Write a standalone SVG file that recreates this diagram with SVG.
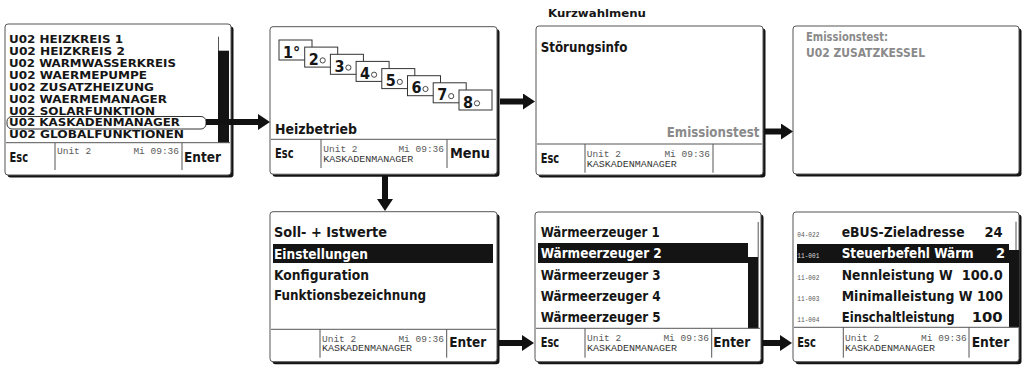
<svg xmlns="http://www.w3.org/2000/svg" width="1029" height="366" viewBox="0 0 1029 366">
<defs>
<style>
.sh{fill:#141414}
.fr{fill:#fff;stroke:#555;stroke-width:1}
.t{font-family:"DejaVu Sans Condensed","DejaVu Sans",sans-serif;font-weight:bold;font-stretch:condensed;fill:#161616}
.l{font-size:10.5px}
.m{font-size:14.5px}
.d{font-size:16px}
.w{fill:#fff}
.g{fill:#8a8a8a}
.mo{font-family:"Liberation Mono","DejaVu Sans Mono",monospace;font-size:9.5px;fill:#5a5a5a}
.mk{font-family:"Liberation Mono","DejaVu Sans Mono",monospace;font-size:9px;fill:#333}
.cd{font-family:"Liberation Mono","DejaVu Sans Mono",monospace;font-size:8px;fill:#555}
.dv{stroke:#555;stroke-width:1;fill:none}
.bx{fill:#fff;stroke:#333;stroke-width:1}
.ci{fill:none;stroke:#333;stroke-width:0.9}
.ar{stroke:#111;stroke-width:6;fill:none}
</style>
<marker id="ah" markerUnits="userSpaceOnUse" markerWidth="12" markerHeight="16" viewBox="0 0 12 16" refX="0" refY="8" orient="auto">
<path d="M0,0 L12,8 L0,16 Z" fill="#111"/>
</marker>
</defs>

<g id="screen-menu">
<rect class="sh" x="7.5" y="26.5" width="226" height="151" rx="3"/>
<rect class="fr" x="5" y="24" width="226" height="151" rx="3"/>
<text class="t l" x="9" y="42.7" textLength="114" lengthAdjust="spacingAndGlyphs">U02 HEIZKREIS 1</text>
<text class="t l" x="9" y="54.5" textLength="116" lengthAdjust="spacingAndGlyphs">U02 HEIZKREIS 2</text>
<text class="t l" x="9" y="66.6" textLength="167" lengthAdjust="spacingAndGlyphs">U02 WARMWASSERKREIS</text>
<text class="t l" x="9" y="78.6" textLength="138" lengthAdjust="spacingAndGlyphs">U02 WAERMEPUMPE</text>
<text class="t l" x="9" y="90.6" textLength="145" lengthAdjust="spacingAndGlyphs">U02 ZUSATZHEIZUNG</text>
<text class="t l" x="9" y="102.5" textLength="158" lengthAdjust="spacingAndGlyphs">U02 WAERMEMANAGER</text>
<text class="t l" x="9" y="114.5" textLength="146" lengthAdjust="spacingAndGlyphs">U02 SOLARFUNKTION</text>
<rect x="7" y="116.5" width="199" height="12.5" rx="5" fill="none" stroke="#333" stroke-width="1"/>
<text class="t l" x="9" y="126.4" textLength="171" lengthAdjust="spacingAndGlyphs">U02 KASKADENMANAGER</text>
<text class="t l" x="9" y="138" textLength="175" lengthAdjust="spacingAndGlyphs">U02 GLOBALFUNKTIONEN</text>
<line class="dv" x1="218.5" y1="36.7" x2="218.5" y2="51"/>
<rect x="218" y="50.7" width="11" height="92" fill="#141414"/>
<line class="dv" x1="6" y1="142.7" x2="230" y2="142.7"/>
<line class="dv" x1="55" y1="143" x2="55" y2="170"/>
<line class="dv" x1="182" y1="143" x2="182" y2="170"/>
<text class="t m" x="9.5" y="162" textLength="18.5" lengthAdjust="spacingAndGlyphs">Esc</text>
<text class="mo" x="57" y="154.3">Unit 2</text>
<text class="mo" x="179" y="154.3" text-anchor="end">Mi 09:36</text>
<text class="t m" x="184" y="162" textLength="37" lengthAdjust="spacingAndGlyphs">Enter</text>
</g>

<g id="screen-heizbetrieb">
<rect class="sh" x="272.5" y="29.2" width="227" height="147.5" rx="3"/>
<rect class="fr" x="270" y="26.7" width="227" height="147.5" rx="3"/>
<rect class="bx" x="279" y="40" width="33" height="20"/>
<text class="t d" x="283" y="57.5">1°</text>
<rect class="bx" x="304.7" y="47.1" width="33" height="20"/>
<text class="t d" x="308.7" y="64.6">2</text>
<circle class="ci" cx="322.7" cy="60.4" r="2.6"/>
<rect class="bx" x="330.4" y="54.3" width="33" height="20"/>
<text class="t d" x="334.4" y="71.8">3</text>
<circle class="ci" cx="348.4" cy="67.6" r="2.6"/>
<rect class="bx" x="356.1" y="61.4" width="33" height="20"/>
<text class="t d" x="360.1" y="78.9">4</text>
<circle class="ci" cx="374.1" cy="74.7" r="2.6"/>
<rect class="bx" x="381.8" y="68.6" width="33" height="20"/>
<text class="t d" x="385.8" y="86.1">5</text>
<circle class="ci" cx="399.8" cy="81.9" r="2.6"/>
<rect class="bx" x="407.5" y="75.7" width="33" height="20"/>
<text class="t d" x="411.5" y="93.2">6</text>
<circle class="ci" cx="425.5" cy="89" r="2.6"/>
<rect class="bx" x="433.2" y="82.8" width="33" height="20"/>
<text class="t d" x="437.2" y="100.3">7</text>
<circle class="ci" cx="451.2" cy="96.1" r="2.6"/>
<rect class="bx" x="459" y="90" width="33" height="20"/>
<text class="t d" x="463" y="107.5">8</text>
<circle class="ci" cx="477" cy="103.3" r="2.6"/>
<text class="t m" x="275" y="134.3" textLength="82" lengthAdjust="spacingAndGlyphs">Heizbetrieb</text>
<line class="dv" x1="271" y1="139.3" x2="496" y2="139.3"/>
<line class="dv" x1="321" y1="139.3" x2="321" y2="168"/>
<line class="dv" x1="447" y1="139.3" x2="447" y2="168"/>
<text class="t m" x="275" y="158.3" textLength="18.5" lengthAdjust="spacingAndGlyphs">Esc</text>
<text class="mo" x="323.3" y="151.7">Unit 2</text>
<text class="mo" x="444" y="151.7" text-anchor="end">Mi 09:36</text>
<text class="mk" x="323.3" y="161.7" textLength="90" lengthAdjust="spacingAndGlyphs">KASKADENMANAGER</text>
<text class="t m" x="450" y="158.3" textLength="40" lengthAdjust="spacingAndGlyphs">Menu</text>
</g>

<g id="screen-kurzwahl">
<text class="t" x="548" y="17" font-size="10" textLength="98" lengthAdjust="spacingAndGlyphs">Kurzwahlmenu</text>
<rect class="sh" x="538.5" y="28.5" width="227" height="149" rx="3"/>
<rect class="fr" x="536" y="26" width="227" height="149" rx="3"/>
<text class="t m" x="540.7" y="51.7" textLength="86.7" lengthAdjust="spacingAndGlyphs">Störungsinfo</text>
<text class="t m g" x="666.7" y="136.7" textLength="92.7" lengthAdjust="spacingAndGlyphs">Emissionstest</text>
<line class="dv" x1="537" y1="144" x2="762" y2="144"/>
<line class="dv" x1="585" y1="144" x2="585" y2="172.7"/>
<line class="dv" x1="713" y1="144" x2="713" y2="172.7"/>
<text class="t m" x="540.7" y="162.7" textLength="18.5" lengthAdjust="spacingAndGlyphs">Esc</text>
<text class="mo" x="586.7" y="156.7">Unit 2</text>
<text class="mo" x="710" y="156.7" text-anchor="end">Mi 09:36</text>
<text class="mk" x="586.7" y="166.7" textLength="90" lengthAdjust="spacingAndGlyphs">KASKADENMANAGER</text>
</g>

<g id="screen-emission">
<rect class="sh" x="795.5" y="28.5" width="226" height="148" rx="3"/>
<rect class="fr" x="793" y="26" width="226" height="148" rx="3"/>
<text class="t g" x="806" y="40.5" font-size="13" textLength="82" lengthAdjust="spacingAndGlyphs">Emissionstest:</text>
<text class="t g" x="806" y="57" font-size="13" textLength="119" lengthAdjust="spacingAndGlyphs">U02 ZUSATZKESSEL</text>
</g>

<g id="screen-auswahl">
<rect class="sh" x="272.5" y="214.2" width="227" height="150" rx="3"/>
<rect class="fr" x="270" y="211.7" width="227" height="150" rx="3"/>
<text class="t m" x="274" y="236.7" textLength="113" lengthAdjust="spacingAndGlyphs">Soll- + Istwerte</text>
<rect x="273" y="244" width="220" height="19" fill="#141414"/>
<text class="t m w" x="274" y="259" textLength="94" lengthAdjust="spacingAndGlyphs">Einstellungen</text>
<text class="t m" x="274" y="280" textLength="95" lengthAdjust="spacingAndGlyphs">Konfiguration</text>
<text class="t m" x="274" y="300" textLength="152" lengthAdjust="spacingAndGlyphs">Funktionsbezeichnung</text>
<line class="dv" x1="271" y1="329.3" x2="496" y2="329.3"/>
<line class="dv" x1="320" y1="329.3" x2="320" y2="357.7"/>
<line class="dv" x1="446.7" y1="329.3" x2="446.7" y2="357.7"/>
<text class="mo" x="322" y="341.7">Unit 2</text>
<text class="mo" x="444" y="341.7" text-anchor="end">Mi 09:36</text>
<text class="mk" x="322" y="351.3" textLength="90" lengthAdjust="spacingAndGlyphs">KASKADENMANAGER</text>
<text class="t m" x="449.3" y="347.3" textLength="37" lengthAdjust="spacingAndGlyphs">Enter</text>
</g>

<g id="screen-waermeerzeuger">
<rect class="sh" x="537.5" y="214.5" width="226" height="149.7" rx="3"/>
<rect class="fr" x="535" y="212" width="226" height="149.7" rx="3"/>
<text class="t m" x="540.7" y="236.7" textLength="119" lengthAdjust="spacingAndGlyphs">Wärmeerzeuger 1</text>
<rect x="538" y="243" width="210" height="20" fill="#141414"/>
<text class="t m w" x="540.7" y="258.3" textLength="121" lengthAdjust="spacingAndGlyphs">Wärmeerzeuger 2</text>
<text class="t m" x="540.7" y="280" textLength="120" lengthAdjust="spacingAndGlyphs">Wärmeerzeuger 3</text>
<text class="t m" x="540.7" y="301" textLength="120" lengthAdjust="spacingAndGlyphs">Wärmeerzeuger 4</text>
<text class="t m" x="540.7" y="321.7" textLength="120" lengthAdjust="spacingAndGlyphs">Wärmeerzeuger 5</text>
<line class="dv" x1="758.2" y1="222" x2="758.2" y2="257"/>
<rect x="748" y="257" width="10.5" height="71.3" fill="#141414"/>
<line class="dv" x1="536" y1="328.3" x2="760" y2="328.3"/>
<line class="dv" x1="585" y1="328.3" x2="585" y2="357.7"/>
<line class="dv" x1="711.7" y1="328.3" x2="711.7" y2="357.7"/>
<text class="t m" x="540.7" y="346.7" textLength="18.5" lengthAdjust="spacingAndGlyphs">Esc</text>
<text class="mo" x="587" y="341">Unit 2</text>
<text class="mo" x="709" y="341" text-anchor="end">Mi 09:36</text>
<text class="mk" x="587" y="351" textLength="90" lengthAdjust="spacingAndGlyphs">KASKADENMANAGER</text>
<text class="t m" x="713.3" y="347" textLength="37" lengthAdjust="spacingAndGlyphs">Enter</text>
</g>

<g id="screen-parameter">
<rect class="sh" x="795.5" y="214.5" width="226" height="149.7" rx="3"/>
<rect class="fr" x="793" y="212" width="226" height="149.7" rx="3"/>
<text class="cd" x="797.3" y="236.7" textLength="22" lengthAdjust="spacingAndGlyphs">04-022</text>
<text class="t m" x="841.7" y="236.7" textLength="123" lengthAdjust="spacingAndGlyphs">eBUS-Zieladresse</text>
<text class="t m" x="1002.7" y="236.7" text-anchor="end">24</text>
<rect x="797" y="244" width="212" height="19" fill="#141414"/>
<text class="cd" x="797.3" y="258.3" textLength="22" lengthAdjust="spacingAndGlyphs" style="fill:#ddd">11-001</text>
<text class="t m w" x="841.7" y="258.3" textLength="132" lengthAdjust="spacingAndGlyphs">Steuerbefehl Wärm</text>
<text class="t m w" x="1005" y="258.3" text-anchor="end">2</text>
<text class="cd" x="797.3" y="280" textLength="22" lengthAdjust="spacingAndGlyphs">11-002</text>
<text class="t m" x="841.7" y="280" textLength="111" lengthAdjust="spacingAndGlyphs">Nennleistung W</text>
<text class="t m" x="961.7" y="280" textLength="41" lengthAdjust="spacingAndGlyphs">100.0</text>
<text class="cd" x="797.3" y="301" textLength="22" lengthAdjust="spacingAndGlyphs">11-003</text>
<text class="t m" x="841.7" y="301" textLength="161.3" lengthAdjust="spacingAndGlyphs">Minimalleistung W 100</text>
<text class="cd" x="797.3" y="321.7" textLength="22" lengthAdjust="spacingAndGlyphs">11-004</text>
<text class="t m" x="841.7" y="321.7" textLength="113" lengthAdjust="spacingAndGlyphs">Einschaltleistung</text>
<text class="t m" x="971.7" y="321.7" textLength="31" lengthAdjust="spacingAndGlyphs">100</text>
<line class="dv" x1="1016" y1="221.7" x2="1016" y2="250"/>
<rect x="1009" y="250" width="10" height="77.3" fill="#141414"/>
<line class="dv" x1="794" y1="327.3" x2="1018" y2="327.3"/>
<line class="dv" x1="843.3" y1="327.3" x2="843.3" y2="357.7"/>
<line class="dv" x1="969" y1="327.3" x2="969" y2="357.7"/>
<text class="t m" x="797.3" y="346.7" textLength="18.5" lengthAdjust="spacingAndGlyphs">Esc</text>
<text class="mo" x="845" y="341">Unit 2</text>
<text class="mo" x="966.7" y="341" text-anchor="end">Mi 09:36</text>
<text class="mk" x="845" y="351" textLength="90" lengthAdjust="spacingAndGlyphs">KASKADENMANAGER</text>
<text class="t m" x="971.7" y="347" textLength="37.6" lengthAdjust="spacingAndGlyphs">Enter</text>
</g>

<g id="connectors">
<line class="ar" x1="206" y1="122" x2="258" y2="122" stroke-width="5.5" marker-end="url(#ah)"/>
<line class="ar" x1="500" y1="101.5" x2="523" y2="101.5" marker-end="url(#ah)"/>
<line class="ar" x1="765" y1="131.5" x2="781" y2="131.5" marker-end="url(#ah)"/>
<line class="ar" x1="385" y1="176" x2="385" y2="199" marker-end="url(#ah)"/>
<line class="ar" x1="499" y1="343" x2="522" y2="343" marker-end="url(#ah)"/>
<line class="ar" x1="763" y1="343" x2="780" y2="343" marker-end="url(#ah)"/>
</g>
</svg>
